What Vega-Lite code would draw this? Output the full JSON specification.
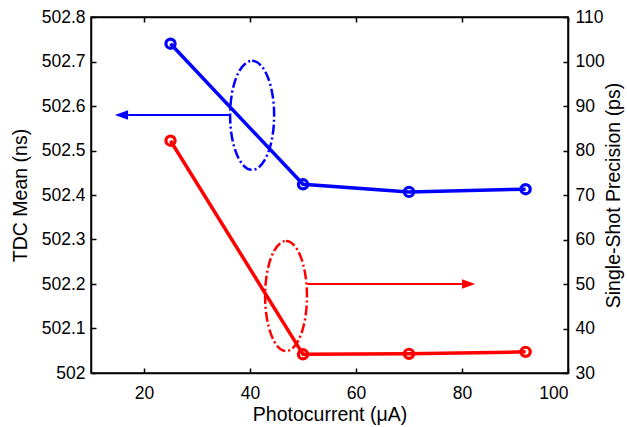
{
  "$schema": "https://vega.github.io/schema/vega-lite/v6.json",
  "width": 477,
  "height": 356,
  "autosize": {"type": "none"},
  "padding": {"left": 91, "top": 17, "right": 59, "bottom": 54},
  "config": {
    "font": "Liberation Sans",
    "view": {"stroke": "black", "strokeWidth": 1.5},
    "axis": {
      "grid": false,
      "domainColor": "black",
      "domainWidth": 1.5,
      "tickColor": "black",
      "tickWidth": 1.5,
      "tickSize": -5,
      "labelFont": "Liberation Sans",
      "labelFontSize": 17.5,
      "labelColor": "black",
      "titleFont": "Liberation Sans",
      "titleFontSize": 19.5,
      "titleFontWeight": "normal",
      "titleColor": "black"
    }
  },
  "datasets": {
    "tdc": [{"x": 25, "y": 502.74}, {"x": 50, "y": 502.424}, {"x": 70, "y": 502.407}, {"x": 92, "y": 502.413}],
    "prec": [{"x": 25, "y": 82.2}, {"x": 50, "y": 34.2}, {"x": 70, "y": 34.3}, {"x": 92, "y": 34.75}],
    "blueEllipse": [{"x": 40.4, "y": 502.579}],
    "blueArrowLine": [{"x": 36.4, "y": 502.58}, {"x": 17.0, "y": 502.58}],
    "blueArrowHead": [{"x": 14.5, "y": 502.58}],
    "redEllipse": [{"x": 46.8, "y": 47.3}],
    "redArrowLine": [{"x": 50.8, "y": 50}, {"x": 80.2, "y": 50}],
    "redArrowHead": [{"x": 82.5, "y": 50}]
  },
  "layer": [
    {
      "encoding": {
        "x": {
          "field": "x", "type": "quantitative",
          "scale": {"domain": [10, 100], "nice": false, "zero": false},
          "axis": {"orient": "bottom", "values": [20, 40, 60, 80, 100], "title": "Photocurrent (μA)", "labelPadding": 16.5, "titlePadding": 3}
        },
        "y": {
          "field": "y", "type": "quantitative",
          "scale": {"domain": [502, 502.8], "nice": false, "zero": false},
          "axis": {"orient": "left", "values": [502, 502.1, 502.2, 502.3, 502.4, 502.5, 502.6, 502.7, 502.8], "format": "~f", "title": "TDC Mean (ns)", "labelPadding": 11, "titlePadding": 11}
        }
      },
      "layer": [
        {"data": {"name": "tdc"}, "mark": {"type": "line", "color": "#0000ff", "strokeWidth": 3.5}},
        {"data": {"name": "tdc"}, "mark": {"type": "point", "shape": "circle", "filled": false, "size": 85, "strokeWidth": 3.2, "color": "#0000ff", "opacity": 1}},
        {"data": {"name": "blueEllipse"}, "mark": {"type": "point", "shape": "M0,-1C0.2231,-1 0.404,-0.5523 0.404,0C0.404,0.5523 0.2231,1 0,1C-0.2231,1 -0.404,0.5523 -0.404,0C-0.404,-0.5523 -0.2231,-1 0,-1Z", "filled": false, "size": 11881, "strokeWidth": 2.5, "strokeDash": [10, 3, 2, 3], "color": "#0000ff", "opacity": 1}},
        {"data": {"name": "blueArrowLine"}, "mark": {"type": "line", "color": "#0000ff", "strokeWidth": 2}},
        {"data": {"name": "blueArrowHead"}, "mark": {"type": "point", "shape": "M0,0L1,-0.36L1,0.36Z", "filled": true, "size": 700, "strokeWidth": 0, "color": "#0000ff", "opacity": 1}}
      ]
    },
    {
      "encoding": {
        "x": {
          "field": "x", "type": "quantitative",
          "scale": {"domain": [10, 100], "nice": false, "zero": false},
          "axis": {"orient": "top", "values": [20, 40, 60, 80, 100], "labels": false, "title": null}
        },
        "y": {
          "field": "y", "type": "quantitative",
          "scale": {"domain": [30, 110], "nice": false, "zero": false},
          "axis": {"orient": "right", "values": [30, 40, 50, 60, 70, 80, 90, 100, 110], "title": "Single-Shot Precision (ps)", "titleAngle": 270, "titleBaseline": "top", "labelPadding": 12, "titlePadding": 0}
        }
      },
      "layer": [
        {"data": {"name": "prec"}, "mark": {"type": "line", "color": "#ff0000", "strokeWidth": 3.5}},
        {"data": {"name": "prec"}, "mark": {"type": "point", "shape": "circle", "filled": false, "size": 85, "strokeWidth": 3.2, "color": "#ff0000", "opacity": 1}},
        {"data": {"name": "redEllipse"}, "mark": {"type": "point", "shape": "M0,-1C0.2101,-1 0.3805,-0.5523 0.3805,0C0.3805,0.5523 0.2101,1 0,1C-0.2101,1 -0.3805,0.5523 -0.3805,0C-0.3805,-0.5523 -0.2101,-1 0,-1Z", "filled": false, "size": 12100, "strokeWidth": 2.5, "strokeDash": [10, 3, 2, 3], "color": "#ff0000", "opacity": 1}},
        {"data": {"name": "redArrowLine"}, "mark": {"type": "line", "color": "#ff0000", "strokeWidth": 2}},
        {"data": {"name": "redArrowHead"}, "mark": {"type": "point", "shape": "M0,0L-1,-0.36L-1,0.36Z", "filled": true, "size": 700, "strokeWidth": 0, "color": "#ff0000", "opacity": 1}}
      ]
    }
  ],
  "resolve": {"scale": {"y": "independent"}, "axis": {"x": "independent"}}
}
